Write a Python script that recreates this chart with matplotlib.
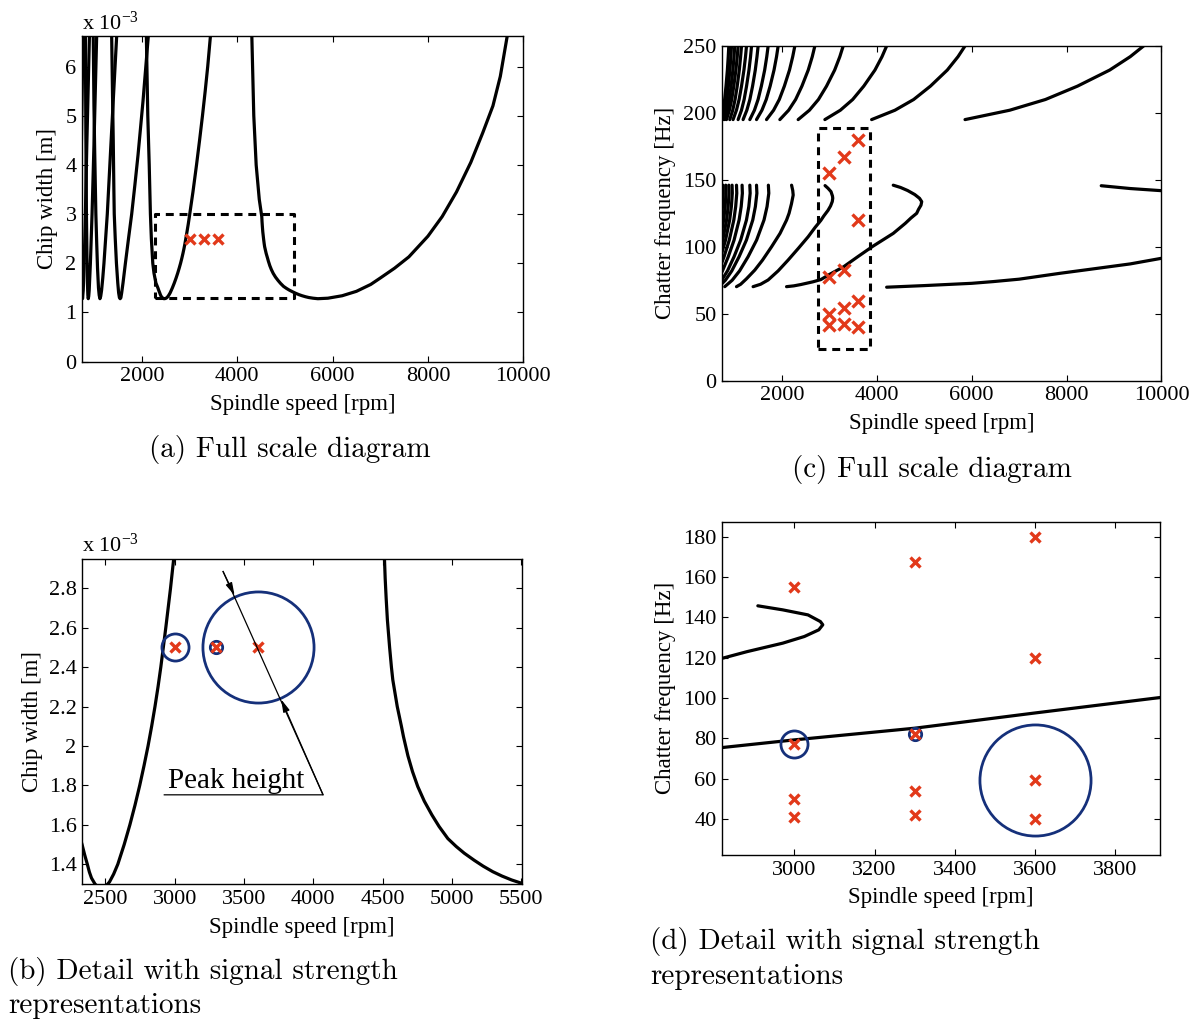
import matplotlib
matplotlib.use('Agg')
import matplotlib.pyplot as plt

# Шрифты: Times-подобный для осей, Computer Modern для подписей
plt.rcParams['font.family'] = 'Liberation Serif'
plt.rcParams['mathtext.fontset'] = 'custom'
plt.rcParams['mathtext.rm'] = 'Liberation Serif'
plt.rcParams['mathtext.it'] = 'Liberation Serif:italic'

# ---- данные: лепестки устойчивости (ширина стружки, x 1e-3 м) ----
lobe0_x = [4304, 4345, 4395, 4460, 4513, 4518, 4525, 4534, 4550, 4563, 4573, 4605, 4635,
           4650, 4682, 4715, 4753, 4800, 4855, 4907, 4970, 5030, 5088, 5160, 5225, 5294,
           5360, 5430, 5499, 5590, 5690, 5900, 6200, 6500, 6800, 7000, 7300, 7600, 8000,
           8300, 8600, 8900, 9150, 9365, 9520, 9665]
lobe0_y = [6.62, 5.0, 4.0, 3.3, 2.947, 2.85, 2.75, 2.639, 2.5, 2.4, 2.335, 2.2, 2.1,
           2.047, 1.95, 1.87, 1.794, 1.72, 1.65, 1.591, 1.53, 1.49, 1.456, 1.42, 1.39, 1.362,
           1.34, 1.32, 1.304, 1.29, 1.28, 1.29, 1.34, 1.43, 1.57, 1.70, 1.90, 2.13, 2.55,
           2.95, 3.45, 4.05, 4.65, 5.2, 5.8, 6.62]
lobe1_x = [2090, 2120, 2150, 2175, 2195, 2225, 2250, 2290, 2332, 2350, 2370, 2385, 2400,
           2425, 2445, 2461, 2480, 2505, 2530, 2560, 2590, 2636, 2677, 2714, 2748, 2779,
           2808, 2834, 2858, 2880, 2900, 2918, 2936, 2953, 2970, 2993, 3068, 3143, 3207,
           3268, 3325, 3378, 3435]
lobe1_y = [6.62, 5.0, 4.0, 3.0, 2.5, 2.0, 1.8, 1.6, 1.5, 1.45, 1.4, 1.36, 1.33,
           1.30, 1.285, 1.28, 1.282, 1.29, 1.31, 1.35, 1.40, 1.5, 1.6, 1.7, 1.8, 1.9,
           2.0, 2.1, 2.2, 2.3, 2.4, 2.5, 2.6, 2.7, 2.8, 2.95, 3.45, 4.0, 4.5,
           5.0, 5.5, 6.0, 6.62]
lobe2_x = [1362, 1380, 1395, 1408, 1416, 1437, 1462, 1490, 1508, 1525, 1540, 1555, 1572,
           1600, 1650, 1715, 1782, 1850, 1915, 2020, 2131]
lobe2_y = [6.62, 5.4, 4.5, 3.5, 3.0, 2.5, 2.0, 1.6, 1.4, 1.3, 1.28, 1.3, 1.4,
           1.6, 2.0, 2.5, 3.0, 3.6, 4.2, 5.3, 6.62]
lobe3_x = [975, 990, 1005, 1030, 1048, 1065, 1085, 1100, 1116, 1132, 1150, 1175, 1200,
           1235, 1270, 1340, 1400, 1467]
lobe3_y = [6.62, 5.2, 4.3, 3.0, 2.4, 1.9, 1.5, 1.35, 1.28, 1.33, 1.45, 1.7, 2.0,
           2.5, 3.0, 4.3, 5.4, 6.62]
lobe4_x = [810, 820, 832, 845, 853, 862, 870, 880, 890, 915, 950, 990, 1047]
lobe4_y = [6.62, 4.6, 3.0, 2.0, 1.6, 1.35, 1.28, 1.33, 1.45, 2.0, 3.0, 4.4, 6.62]
lobe5_x = [700, 712, 725, 738, 750, 765, 785, 810, 840, 895]
lobe5_y = [6.62, 4.0, 2.5, 1.6, 1.28, 1.45, 2.0, 3.0, 4.4, 6.62]
lobe6_x = [640, 660, 690, 720, 760]
lobe6_y = [1.28, 1.6, 2.5, 4.0, 6.62]

# ---- данные: частота вибраций [Гц] ----
up_y = [195, 202, 210, 220, 232, 242, 250]
upper_x = [
    [720, 760, 792, 821, 850, 868, 880],
    [759, 804, 839, 871, 903, 924, 937],
    [795, 848, 890, 928, 966, 990, 1006],
    [831, 892, 941, 985, 1029, 1058, 1076],
    [901, 963, 1012, 1057, 1101, 1129, 1148],
    [970, 1041, 1097, 1148, 1199, 1232, 1253],
    [1076, 1147, 1203, 1254, 1305, 1338, 1359],
    [1181, 1260, 1324, 1381, 1438, 1474, 1498],
    [1323, 1420, 1497, 1566, 1636, 1680, 1709],
    [1464, 1578, 1669, 1751, 1833, 1886, 1920],
    [1675, 1824, 1944, 2051, 2159, 2227, 2272],
    [1956, 2141, 2288, 2421, 2554, 2639, 2694],
    [2342, 2579, 2769, 2940, 3111, 3220, 3291],
    [2905, 3231, 3491, 3725, 3960, 4109, 4207],
    [3890, 4382, 4776, 5130, 5485, 5711, 5859],
    [5859, 6800, 7553, 8230, 8908, 9341, 9623],
]

low_y = [146, 140, 130, 120, 105, 92.6, 82, 75, 70.2]
lower_x = [
    [1714, 1723, 1686, 1622, 1466, 1287, 1107, 951, 795],
    [1464, 1472, 1440, 1385, 1251, 1097, 943, 808, 674],
    [1323, 1330, 1302, 1252, 1130, 991, 852, 730, 609],
    [1160, 1166, 1141, 1097, 991, 869, 747, 640, 534],
    [1042, 1048, 1025, 986, 890, 780, 670, 575, 479],
    [949, 954, 934, 898, 811, 711, 611, 524, 437],
    [880, 885, 866, 833, 752, 659, 567, 486, 405],
    [816, 820, 803, 772, 697, 611, 526, 451, 376],
    [759, 763, 747, 718, 648, 568, 488, 419, 349],
]
lower_a_x = [2203, 2228, 2237, 2200, 2150, 2097, 1960, 1781, 1590, 1428, 1250, 1130, 1042]
lower_a_y = [146, 142, 138.6, 132, 125, 119.9, 110, 100, 90, 82.6, 76, 72, 70.2]
hook_x = [2909, 2971, 3034, 3065, 3071, 3061, 3025, 2971, 2882, 2820, 2700, 2553, 2350,
          2131, 1920, 1709, 1550, 1392]
hook_y = [145.7, 143.7, 141.2, 137.9, 136.3, 133.8, 130.5, 127.2, 123.0, 119.7, 114.5, 107.5, 99,
          90.1, 82, 75.2, 72, 70.2]
big_x = [4346, 4500, 4650, 4800, 4900, 4946, 4930, 4880, 4840, 4720, 4600, 4346, 3913, 3595,
         3301, 3000, 2820, 2650, 2400, 2250, 2097]
big_y = [146, 144.3, 142, 139, 136.2, 133.7, 131, 128, 125, 121.5, 117.5, 110, 100.3, 92.5,
         85.1, 79.3, 75.5, 73.8, 71.8, 70.8, 70.2]
right_low_x = [4207, 5000, 6000, 6456, 7000, 7864, 8500, 9341, 10000]
right_low_y = [69.8, 71.0, 72.7, 74.0, 75.8, 80.2, 83.2, 87.2, 91.4]
right_high_x = [8730, 9341, 10000]
right_high_y = [145.6, 143.5, 141.9]

# ---- измерения ----
test_speed = [3000, 3300, 3600]
test_width = [2.5, 2.5, 2.5]
meas_speed = [3000, 3000, 3000, 3000, 3300, 3300, 3300, 3300, 3600, 3600, 3600, 3600]
meas_freq = [155.2, 77.3, 49.9, 41.3, 167.3, 82.3, 54.2, 42.0, 180, 119.7, 59.5, 40.0]
# доминирующие пики: скорость, частота, сила сигнала (диаметр круга, pt)
peak_speed = [3000, 3300, 3600]
peak_freq = [77.3, 82.3, 59.5]
peak_strength = [19.5, 8.9, 80]

box_a = [2270, 5180, 1.3, 3.0]
box_c = [2750, 3865, 23.5, 189]

yticks_b = [1.4, 1.6, 1.8, 2.0, 2.2, 2.4, 2.6, 2.8]
yticklabels_b = ['1.4', '1.6', '1.8', '2', '2.2', '2.4', '2.6', '2.8']

lobes = [(lobe0_x, lobe0_y), (lobe1_x, lobe1_y), (lobe2_x, lobe2_y), (lobe3_x, lobe3_y),
         (lobe4_x, lobe4_y), (lobe5_x, lobe5_y), (lobe6_x, lobe6_y)]

RED = '#e2391a'
BLUE = '#15307a'
LW = 2.3
FS = 16
FSL = 16.5


def style(ax):
    ax.tick_params(direction='in', top=True, right=True, length=4.5, width=0.8,
                   labelsize=FS, pad=4)
    for s in ax.spines.values():
        s.set_linewidth(1.0)
    ax.set_xlabel('Spindle speed [rpm]', fontsize=FSL, labelpad=5.5)


def draw_lobes(ax):
    for lx, ly in lobes:
        ax.plot(lx, ly, color='k', lw=LW, solid_joinstyle='round', solid_capstyle='round')


def draw_chatter(ax):
    kw = dict(color='k', lw=LW, solid_capstyle='round', solid_joinstyle='round')
    for lx in upper_x:
        ax.plot(lx, up_y, **kw)
    for lx in lower_x:
        ax.plot(lx, low_y, **kw)
    ax.plot(lower_a_x, lower_a_y, **kw)
    ax.plot(hook_x, hook_y, **kw)
    ax.plot(big_x, big_y, **kw)
    ax.plot(right_low_x, right_low_y, **kw)
    ax.plot(right_high_x, right_high_y, **kw)


fig = plt.figure(figsize=(12.03, 10.26), dpi=100)

# (a)
ax_a = fig.add_axes([0.0682, 0.6475, 0.3667, 0.3174])
draw_lobes(ax_a)
ax_a.plot([box_a[0], box_a[1], box_a[1], box_a[0], box_a[0]],
          [box_a[2], box_a[2], box_a[3], box_a[3], box_a[2]],
          color='k', lw=2.2, dashes=(2.6, 1.9))
ax_a.plot(test_speed, test_width, 'x', color=RED, ms=7, mew=2.4)
ax_a.set_xlim(740, 10000)
ax_a.set_ylim(0, 6.62)
ax_a.set_xticks([2000, 4000, 6000, 8000, 10000])
ax_a.set_yticks([0, 1, 2, 3, 4, 5, 6])
style(ax_a)
ax_a.set_ylabel('Chip width [m]', fontsize=FSL, labelpad=5)
fig.text(82 / 1203, 1 - 29.5 / 1026, r'x 10$^{-3}$', fontsize=FS, va='baseline')

# (b)
ax_b = fig.add_axes([0.0682, 0.1381, 0.3661, 0.3168])
draw_lobes(ax_b)
for sx, sy, sd in zip(test_speed, test_width, peak_strength):
    ax_b.plot(sx, sy, 'o', mfc='none', mec=BLUE, mew=2.0, ms=sd)
ax_b.plot(test_speed, test_width, 'x', color=RED, ms=7.5, mew=2.4)
ax_b.set_xlim(2332, 5508)
ax_b.set_ylim(1.298, 2.947)
ax_b.set_xticks([2500, 3000, 3500, 4000, 4500, 5000, 5500])
ax_b.set_yticks(yticks_b)
ax_b.set_yticklabels(yticklabels_b)
style(ax_b)
ax_b.set_ylabel('Chip width [m]', fontsize=FSL, labelpad=4)
fig.text(82 / 1203, 1 - 551.7 / 1026, r'x 10$^{-3}$', fontsize=FS, va='baseline')
# аннотация "Peak height"
ax_b.plot([3349, 4070, 2925], [2.885, 1.752, 1.752], color='k', lw=0.9)
ap = dict(arrowstyle='-|>,head_length=0.75,head_width=0.2', color='k', lw=0.9,
          shrinkA=0, shrinkB=0)
ax_b.annotate('', xy=(3432, 2.764), xytext=(3349, 2.885), arrowprops=ap)
ax_b.annotate('', xy=(3768, 2.236), xytext=(4070, 1.752), arrowprops=ap)
ax_b.text(3441, 1.786, 'Peak height', ha='center', va='baseline', fontsize=21)

# (c)
ax_c = fig.add_axes([0.6003, 0.6290, 0.3652, 0.3262])
draw_chatter(ax_c)
ax_c.plot([box_c[0], box_c[1], box_c[1], box_c[0], box_c[0]],
          [box_c[2], box_c[2], box_c[3], box_c[3], box_c[2]],
          color='k', lw=2.2, dashes=(2.6, 1.9))
ax_c.plot(meas_speed, meas_freq, 'x', color=RED, ms=8.5, mew=2.4)
ax_c.set_xlim(740, 10000)
ax_c.set_ylim(0, 250)
ax_c.set_xticks([2000, 4000, 6000, 8000, 10000])
ax_c.set_yticks([0, 50, 100, 150, 200, 250])
style(ax_c)
ax_c.set_ylabel('Chatter frequency [Hz]', fontsize=FSL, labelpad=5)

# (d)
ax_d = fig.add_axes([0.6003, 0.1667, 0.3643, 0.3249])
draw_chatter(ax_d)
for sx, sy, sd in zip(peak_speed, peak_freq, peak_strength):
    ax_d.plot(sx, sy, 'o', mfc='none', mec=BLUE, mew=2.0, ms=sd)
ax_d.plot(meas_speed, meas_freq, 'x', color=RED, ms=7.5, mew=2.4)
ax_d.set_xlim(2820, 3913)
ax_d.set_ylim(22.3, 187.4)
ax_d.set_xticks([3000, 3200, 3400, 3600, 3800])
ax_d.set_yticks([40, 60, 80, 100, 120, 140, 160, 180])
style(ax_d)
ax_d.set_ylabel('Chatter frequency [Hz]', fontsize=FSL, labelpad=5)

# подписи панелей
cap = dict(family='cmr10', fontsize=21)
fig.text(290 / 1203, 1 - 449 / 1026, '(a) Full scale diagram', ha='center', va='center', **cap)
fig.text(932 / 1203, 1 - 469 / 1026, '(c) Full scale diagram', ha='center', va='center', **cap)
fig.text(8 / 1203, 1 - 971 / 1026, '(b) Detail with signal strength', ha='left', va='center', **cap)
fig.text(8 / 1203, 1 - 1006 / 1026, 'representations', ha='left', va='center', **cap)
fig.text(650 / 1203, 1 - 942 / 1026, '(d) Detail with signal strength', ha='left', va='center', **cap)
fig.text(650 / 1203, 1 - 977 / 1026, 'representations', ha='left', va='center', **cap)

fig.savefig('out.png', dpi=100)
